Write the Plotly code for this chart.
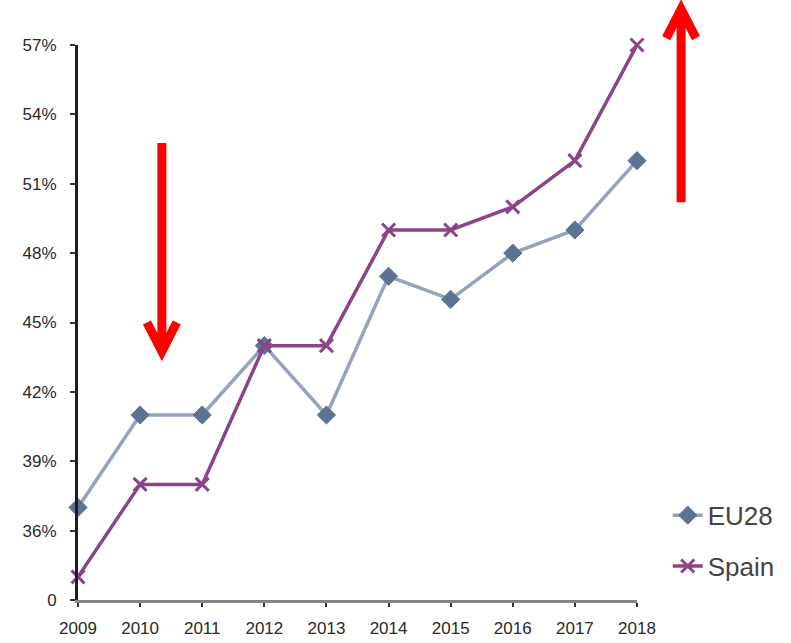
import plotly.graph_objects as go

# Share of population (%), 2009-2018
years = [2009, 2010, 2011, 2012, 2013, 2014, 2015, 2016, 2017, 2018]
eu28 = [37, 41, 41, 44, 41, 47, 46, 48, 49, 52]
spain = [34, 38, 38, 44, 44, 49, 49, 50, 52, 57]

# Y axis starts at a broken baseline labelled "0"
y_tickvals = [33, 36, 39, 42, 45, 48, 51, 54, 57]
y_ticktext = ["0", "36%", "39%", "42%", "45%", "48%", "51%", "54%", "57%"]

X_RANGE = (2009, 2018)
Y_RANGE = (33, 57)

fig = go.Figure()

fig.add_trace(go.Scatter(
    x=years, y=eu28, name="EU28", mode="lines+markers",
    line=dict(color="#97a3b8", width=3.5),
    marker=dict(symbol="diamond", size=14, color="#5d7392",
                line=dict(color="#5d7392", width=1)),
    legendgroup="a", cliponaxis=False,
))
fig.add_trace(go.Scatter(
    x=years, y=spain, name="Spain", mode="lines+markers",
    line=dict(color="#8a4588", width=3.5),
    marker=dict(symbol="x-thin-open", size=13,
                line=dict(color="#4e1a50", width=3)),
    legendgroup="b", cliponaxis=False,
))


def to_paper(xv, yv):
    """Map data values to paper fractions so the arrows may extend past the axes."""
    px = (xv - X_RANGE[0]) / (X_RANGE[1] - X_RANGE[0])
    py = (yv - Y_RANGE[0]) / (Y_RANGE[1] - Y_RANGE[0])
    return px, py


def arrow_path(x, y_tail, y_tip, half_w, head_len):
    tx, ty0 = to_paper(x, y_tail)
    _, ty1 = to_paper(x, y_tip)
    lx, ly = to_paper(x - half_w, y_tip + head_len)
    rx, _ = to_paper(x + half_w, y_tip + head_len)
    return (f"M {tx} {ty0} L {tx} {ty1} "
            f"M {lx} {ly} L {tx} {ty1} L {rx} {ly}")


shapes = [
    # falling arrow
    dict(type="path", xref="paper", yref="paper",
         path=arrow_path(2010.35, 52.76, 43.75, 0.24, 1.25),
         line=dict(color="#ff0000", width=9)),
    # rising arrow
    dict(type="path", xref="paper", yref="paper",
         path=arrow_path(2018.71, 50.2, 58.55, 0.24, -1.25),
         line=dict(color="#ff0000", width=9)),
]

tick_font = dict(family="Liberation Sans, Arial, sans-serif", size=17, color="#2a2a2a")

fig.update_layout(
    width=791, height=643,
    margin=dict(l=78, r=154, t=45, b=43, autoexpand=False),
    paper_bgcolor="white", plot_bgcolor="white",
    showlegend=True,
    legend=dict(
        x=1.055, y=0.195, xanchor="left", yanchor="top",
        font=dict(family="Liberation Sans, Arial, sans-serif", size=26, color="#444444"),
        tracegroupgap=14, bgcolor="rgba(0,0,0,0)",
    ),
    shapes=shapes,
    xaxis=dict(
        range=list(X_RANGE), tickmode="array", tickvals=years,
        ticktext=[str(y) for y in years],
        showgrid=False, zeroline=False, automargin=False,
        showline=True, linecolor="#858585", linewidth=3,
        ticks="outside", ticklen=4, tickwidth=2, tickcolor="#333333",
        tickfont=tick_font, ticklabelstandoff=7,
    ),
    yaxis=dict(
        range=list(Y_RANGE), tickmode="array", tickvals=y_tickvals,
        ticktext=y_ticktext,
        showgrid=False, zeroline=False, automargin=False,
        showline=True, linecolor="#1e1e1e", linewidth=3,
        ticks="outside", ticklen=5, tickwidth=2, tickcolor="#333333",
        tickfont=tick_font, ticklabelstandoff=10,
    ),
)

fig.write_html("out.html")
